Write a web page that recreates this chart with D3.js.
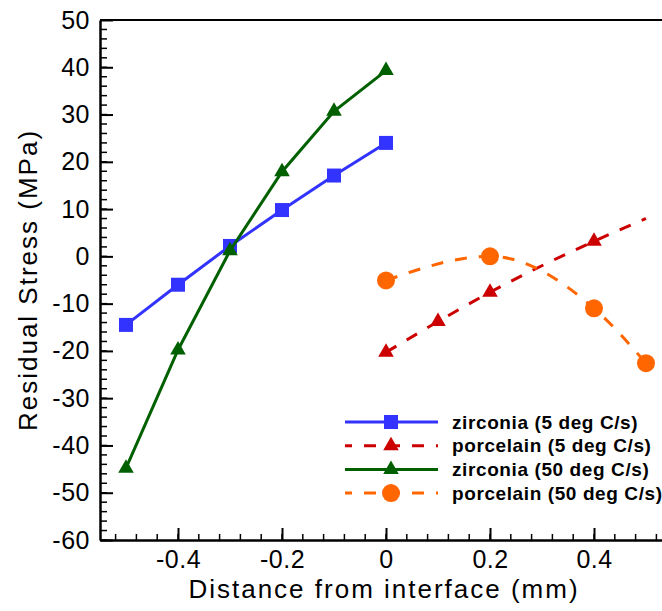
<!DOCTYPE html>
<html>
<head>
<meta charset="utf-8">
<script src="https://cdn.jsdelivr.net/npm/d3@7"></script>
<style>
  body { margin: 0; background: #fff; }
  text { font-family: "Liberation Sans", Arial, sans-serif; fill: #000; }
</style>
</head>
<body>
<div id="chart"></div>
<script>
const width = 662;
const height = 611;
const plot = { left: 100, right: 672, top: 20, bottom: 540 };

// values
const zirconia5X = [-0.5, -0.4, -0.3, -0.2, -0.1, 0];
const zirconia5Y = [-14.5, -6, 2.2, 9.8, 17.1, 24];
const porcelain5X = [0, 0.1, 0.2, 0.4, 0.5];
const porcelain5Y = [-20.3, -13.8, -7.6, 3.2, 8];
const porcelain5Symbols = [true, true, true, true, false];
const zirconia50X = [-0.5, -0.4, -0.3, -0.2, -0.1, 0];
const zirconia50Y = [-44.8, -19.8, 1.2, 17.9, 30.7, 39.3];
const porcelain50X = [0, 0.2, 0.4, 0.5];
const porcelain50Y = [-5.1, 0, -11, -22.6];

const seriesNames = ["zirconia (5 deg C/s)", "porcelain (5 deg C/s)", "zirconia (50 deg C/s)", "porcelain (50 deg C/s)"];
const xTickLabels = [-0.4, -0.2, 0, 0.2, 0.4];
const yTickLabels = [50, 40, 30, 20, 10, 0, -10, -20, -30, -40, -50, -60];

const series = [
    { name: seriesNames[0], x: zirconia5X, y: zirconia5Y, color: "#3333ff", dash: null, symbol: d3.symbolSquare, size: 196, curve: d3.curveLinear },
    { name: seriesNames[1], x: porcelain5X, y: porcelain5Y, show: porcelain5Symbols, color: "#cc0000", dash: "12,12", symbol: d3.symbolTriangle, size: 105, curve: d3.curveMonotoneX },
    { name: seriesNames[2], x: zirconia50X, y: zirconia50Y, color: "#006000", dash: null, symbol: d3.symbolTriangle, size: 105, curve: d3.curveLinear },
    { name: seriesNames[3], x: porcelain50X, y: porcelain50Y, color: "#ff6600", dash: "12,12", symbol: d3.symbolCircle, size: 254, curve: d3.curveMonotoneX }
];

const svg = d3.select("#chart")
    .append("svg")
    .attr("width", width)
    .attr("height", height);

const xScale = d3.scaleLinear().domain([-0.55, 0.55]).range([plot.left, plot.right]);
const yScale = d3.scaleLinear().domain([-60, 50]).range([plot.bottom, plot.top]);

// frame
svg.append("line")
    .attr("x1", plot.left).attr("x2", plot.right)
    .attr("y1", plot.top).attr("y2", plot.top)
    .attr("stroke", "#000").attr("stroke-width", 2);

// minor ticks
const xMinor = d3.range(-0.52, 0.55, 0.04).map(v => +v.toFixed(2));
const yMinor = d3.range(-60, 51, 2);

svg.append("g")
    .selectAll("line")
    .data(xMinor)
    .enter().append("line")
    .attr("x1", d => xScale(d)).attr("x2", d => xScale(d))
    .attr("y1", plot.bottom).attr("y2", plot.bottom - 6)
    .attr("stroke", "#000").attr("stroke-width", 1.5);

svg.append("g")
    .selectAll("line")
    .data(yMinor)
    .enter().append("line")
    .attr("x1", plot.left).attr("x2", plot.left + 7)
    .attr("y1", d => yScale(d)).attr("y2", d => yScale(d))
    .attr("stroke", "#000").attr("stroke-width", 1.5);

// axes with inward major ticks
const xAxis = d3.axisBottom(xScale)
    .tickValues(xTickLabels)
    .tickSizeInner(-12)
    .tickSizeOuter(0)
    .tickPadding(10)
    .tickFormat(d => String(d));

const xAxisGroup = svg.append("g")
    .attr("transform", `translate(0, ${plot.bottom})`)
    .call(xAxis);

xAxisGroup.select(".domain").attr("stroke-width", 2.5);
xAxisGroup.selectAll(".tick line").attr("stroke-width", 2);
xAxisGroup.selectAll(".tick text")
    .attr("font-size", 25)
    .attr("letter-spacing", 0.5)
    .attr("font-family", "Liberation Sans, Arial, sans-serif");

const yAxis = d3.axisLeft(yScale)
    .tickValues(yTickLabels)
    .tickSizeInner(-13)
    .tickSizeOuter(0)
    .tickPadding(10)
    .tickFormat(d => String(d));

const yAxisGroup = svg.append("g")
    .attr("transform", `translate(${plot.left}, 0)`)
    .call(yAxis);

yAxisGroup.select(".domain").attr("stroke-width", 2.5);
yAxisGroup.selectAll(".tick line").attr("stroke-width", 2);
yAxisGroup.selectAll(".tick text")
    .attr("font-size", 25)
    .attr("letter-spacing", 0.5)
    .attr("font-family", "Liberation Sans, Arial, sans-serif");

// axis titles
svg.append("text")
    .attr("x", 384)
    .attr("y", 598)
    .attr("text-anchor", "middle")
    .attr("font-size", 26)
    .attr("letter-spacing", 2)
    .text("Distance from interface (mm)");

svg.append("text")
    .attr("transform", "translate(37, 280) rotate(-90)")
    .attr("text-anchor", "middle")
    .attr("font-size", 26)
    .attr("letter-spacing", 2)
    .text("Residual Stress (MPa)");

// series
series.forEach(s => {
    const pts = s.x.map((v, i) => ({ x: v, y: s.y[i], show: s.show ? s.show[i] : true }));
    const line = d3.line()
        .x(d => xScale(d.x))
        .y(d => yScale(d.y))
        .curve(s.curve);

    svg.append("path")
        .datum(pts)
        .attr("d", line)
        .attr("fill", "none")
        .attr("stroke", s.color)
        .attr("stroke-width", 3)
        .attr("stroke-dasharray", s.dash);

    svg.append("g")
        .selectAll("path")
        .data(pts.filter(d => d.show))
        .enter().append("path")
        .attr("transform", d => `translate(${xScale(d.x)}, ${yScale(d.y)})`)
        .attr("d", d3.symbol().type(s.symbol).size(s.size))
        .attr("fill", s.color);
});

// legend
const legend = svg.selectAll(".legend")
    .data(series)
    .enter().append("g")
    .attr("class", "legend")
    .attr("transform", (d, i) => `translate(0, ${422 + i * 23.7})`);

legend.append("line")
    .attr("x1", 345).attr("x2", 438)
    .attr("y1", 0).attr("y2", 0)
    .attr("stroke", d => d.color)
    .attr("stroke-width", 3)
    .attr("stroke-dasharray", d => d.dash)
    .attr("stroke-dashoffset", 5);

legend.append("path")
    .attr("transform", "translate(391, 0)")
    .attr("d", d => d3.symbol().type(d.symbol).size(d.size)())
    .attr("fill", d => d.color);

legend.append("text")
    .attr("x", 452)
    .attr("y", 0)
    .attr("dy", "0.35em")
    .attr("font-size", 19)
    .attr("font-weight", "bold")
    .attr("letter-spacing", 0.6)
    .text(d => d.name);
</script>
</body>
</html>
